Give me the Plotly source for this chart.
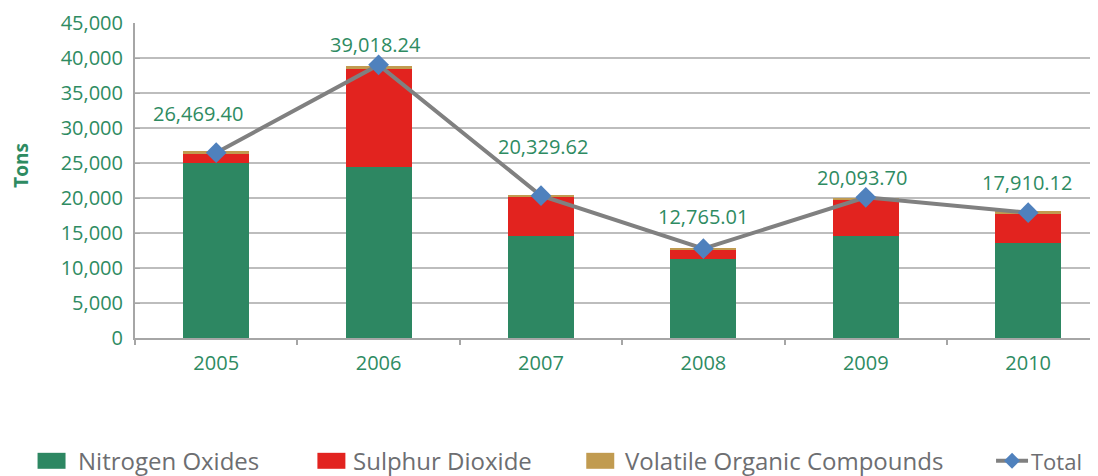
import plotly.graph_objects as go

# Emissions by year (tons)
YEARS = ["2005", "2006", "2007", "2008", "2009", "2010"]
NITROGEN_OXIDES = [25060, 24390, 14510, 11230, 14550, 13510]
SULPHUR_DIOXIDE = [1230, 14080, 5600, 1320, 5140, 4220]
VOLATILE_ORGANIC = [390, 370, 290, 330, 380, 430]
TOTAL = [26469.40, 39018.24, 20329.62, 12765.01, 20093.70, 17910.12]

COLORS = {
    "nox": "#2d8762",
    "so2": "#e2231f",
    "voc": "#c19b50",
    "total_line": "#808080",
    "total_marker": "#4f81bd",
    "text_green": "#2e8b62",
    "legend_text": "#6d6e71",
    "grid": "#bdbdbd",
    "axis": "#a6a6a6",
}
FONT = "Open Sans"

# page body has an 8px margin, so the figure is laid out 8px in from the window
PAGE = 8
W, H = 1098 - PAGE, 476 - PAGE
ML, MR, MT, MB = 134.5 - PAGE, 0, 22.5 - PAGE, 138
PW, PH = W - ML - MR, H - MT - MB


def px_x(px):
    # window pixel -> paper coordinate
    return (px - PAGE - ML) / PW


def px_y(py):
    return (H - MB - (py - PAGE)) / PH


fig = go.Figure()
fig.add_trace(go.Bar(x=YEARS, y=NITROGEN_OXIDES, name="Nitrogen Oxides",
                     marker=dict(color=COLORS["nox"], line_width=0)))
fig.add_trace(go.Bar(x=YEARS, y=SULPHUR_DIOXIDE, name="Sulphur Dioxide",
                     marker=dict(color=COLORS["so2"], line_width=0)))
fig.add_trace(go.Bar(x=YEARS, y=VOLATILE_ORGANIC, name="Volatile Organic Compounds",
                     marker=dict(color=COLORS["voc"], line_width=0)))
fig.add_trace(go.Scatter(
    x=YEARS, y=TOTAL, name="Total", mode="lines+markers",
    line=dict(color=COLORS["total_line"], width=4),
    marker=dict(symbol="diamond", size=16, color=COLORS["total_marker"]),
))

# value labels above the total markers (offsets as in the original)
label_shifts = [(-18, 39), (-3, 20), (2, 49), (0, 32), (-4, 20), (-1, 30)]
for i, (total, (dx, dy)) in enumerate(zip(TOTAL, label_shifts)):
    fig.add_annotation(
        x=i, y=total, text=f"{total:,.2f}", showarrow=False,
        xshift=dx, yshift=dy, yanchor="middle",
        font=dict(family=FONT, size=20, color=COLORS["text_green"]),
    )

# y axis title
fig.add_annotation(
    xref="paper", yref="paper", x=px_x(21), y=px_y(165), text="<b>Tons</b>",
    textangle=-90, showarrow=False, xanchor="center", yanchor="middle",
    font=dict(family=FONT, size=19, color=COLORS["text_green"]),
)

# custom legend along the bottom
legend_y = 461
legend_font = dict(family=FONT, size=24, color=COLORS["legend_text"])
legend_boxes = [
    (37, 65, COLORS["nox"], 75, "Nitrogen Oxides"),
    (317, 345, COLORS["so2"], 351, "Sulphur Dioxide"),
    (586, 614, COLORS["voc"], 623, "Volatile Organic Compounds"),
]
for x0, x1, color, tx, label in legend_boxes:
    fig.add_shape(type="rect", xref="paper", yref="paper",
                  x0=px_x(x0), x1=px_x(x1), y0=px_y(legend_y + 8), y1=px_y(legend_y - 8),
                  fillcolor=color, line_width=0)
    fig.add_annotation(xref="paper", yref="paper", x=px_x(tx), y=px_y(legend_y),
                       text=label, showarrow=False, xanchor="left", yanchor="middle",
                       font=legend_font)

fig.add_shape(type="line", xref="paper", yref="paper",
              x0=px_x(996), x1=px_x(1028), y0=px_y(legend_y), y1=px_y(legend_y),
              line=dict(color=COLORS["total_line"], width=4))
cx, cy, r = 1012, legend_y, 8
diamond = (f"M {px_x(cx)},{px_y(cy - r)} L {px_x(cx + r)},{px_y(cy)} "
           f"L {px_x(cx)},{px_y(cy + r)} L {px_x(cx - r)},{px_y(cy)} Z")
fig.add_shape(type="path", xref="paper", yref="paper", path=diamond,
              fillcolor=COLORS["total_marker"], line_width=0)
fig.add_annotation(xref="paper", yref="paper", x=px_x(1029), y=px_y(legend_y),
                   text="Total", showarrow=False, xanchor="left", yanchor="middle",
                   font=dict(family=FONT, size=22, color=COLORS["legend_text"]))

fig.update_layout(
    width=W, height=H,
    margin=dict(l=ML, r=MR, t=MT, b=MB),
    paper_bgcolor="white", plot_bgcolor="white",
    barmode="stack", bargap=0.594,
    showlegend=False,
    font=dict(family=FONT, color=COLORS["text_green"]),
    xaxis=dict(
        type="category", range=[-0.5, 5.43],
        showline=True, linecolor=COLORS["axis"], linewidth=2,
        ticks="outside", tickson="boundaries", ticklen=5, tickwidth=1.5,
        tickcolor=COLORS["axis"], showgrid=False, ticklabelstandoff=6,
        tickfont=dict(family=FONT, size=20, color=COLORS["text_green"]),
    ),
    yaxis=dict(
        range=[0, 45000], dtick=5000, tickformat=",",
        showline=True, linecolor=COLORS["axis"], linewidth=2,
        ticks="inside", ticklen=5, tickcolor=COLORS["axis"],
        gridcolor=COLORS["grid"], gridwidth=2, zeroline=False, ticklabelstandoff=6,
        tickfont=dict(family=FONT, size=20, color=COLORS["text_green"]),
    ),
)

fig.write_html("out.html")
